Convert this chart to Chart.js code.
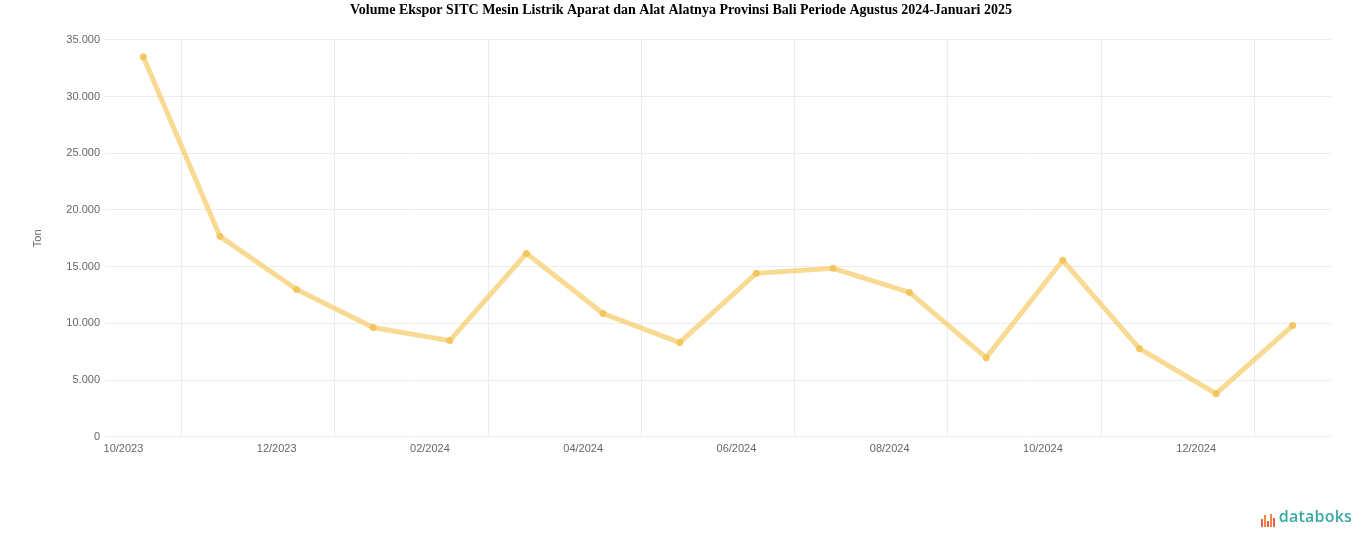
<!DOCTYPE html>
<html>
<head>
<meta charset="utf-8">
<script src="https://cdn.jsdelivr.net/npm/chart.js@4.4.1/dist/chart.umd.min.js"></script>
<style>
  html, body { margin: 0; padding: 0; background: #fff; }
  #wrap { position: relative; width: 1366px; height: 547px; }
  #logo {
    position: absolute; right: 14px; bottom: 20px;
    font-family: "Open Sans", sans-serif; font-size: 16px; font-weight: 600;
    color: #3aa9a5; display: flex; align-items: flex-end; letter-spacing: 0.2px;
  }
  #logo .bars { display: flex; align-items: flex-end; margin-right: 3px; height: 14px; }
  #logo .bars span { display: inline-block; width: 2px; margin-right: 1px; background: #e8604c; }
</style>
</head>
<body>
<div id="wrap">
  <canvas id="chart" width="1366" height="547"></canvas>
  <div id="logo">
    <div class="bars"><span style="height:8px"></span><span style="height:12px;background:#f08a3c"></span><span style="height:6px"></span><span style="height:13px;background:#f08a3c"></span><span style="height:9px"></span></div>databoks
  </div>
</div>
<script>
// Data
const months = ['10/2023', '11/2023', '12/2023', '01/2024', '02/2024', '03/2024', '04/2024', '05/2024',
  '06/2024', '07/2024', '08/2024', '09/2024', '10/2024', '11/2024', '12/2024', '01/2025'];
const volume = [33500, 17680, 12990, 9630, 8480, 16170, 10870, 8310,
  14410, 14850, 12730, 6980, 15560, 7780, 3800, 9810];
const yTicks = [0, 5000, 10000, 15000, 20000, 25000, 30000, 35000];

const titleText = 'Volume Ekspor SITC Mesin Listrik Aparat dan Alat Alatnya Provinsi Bali Periode Agustus 2024-Januari 2025';

const fmt = v => v.toLocaleString('de-DE');

const lineColor = 'rgba(246, 206, 110, 0.75)';

new Chart(document.getElementById('chart'), {
  type: 'line',
  data: {
    labels: months,
    datasets: [{
      label: 'Volume',
      data: volume,
      borderColor: lineColor,
      backgroundColor: 'rgba(242, 196, 90, 0.9)',
      borderWidth: 5,
      pointRadius: 3.5,
      pointBorderWidth: 0,
      tension: 0,
      fill: false
    }]
  },
  options: {
    responsive: false,
    animation: false,
    layout: { padding: { left: 31, right: 35, top: 0, bottom: 85 } },
    plugins: {
      legend: { display: false },
      tooltip: { enabled: false },
      title: {
        display: true,
        text: titleText,
        color: '#000',
        font: { family: '"Liberation Serif", "Times New Roman", serif', size: 14, weight: 'bold' },
        padding: { top: 2, bottom: 21 }
      }
    },
    scales: {
      x: {
        offset: true,
        border: { display: false },
        grid: {
          offset: true,
          drawTicks: false,
          lineWidth: 1,
          color: ctx => (ctx.index % 2 === 1 ? '#ececec' : 'rgba(0,0,0,0)')
        },
        ticks: {
          autoSkip: false,
          maxRotation: 0,
          align: 'end',
          padding: 6,
          color: '#666',
          font: { family: 'Arial, "Liberation Sans", sans-serif', size: 11 },
          callback: (v, i) => (i % 2 === 0 ? months[i] : '')
        }
      },
      y: {
        min: 0,
        max: 35000,
        border: { display: false },
        afterFit: s => { s.width = 74; },
        afterBuildTicks: s => { s.ticks = yTicks.map(v => ({ value: v })); },
        grid: { drawTicks: false, color: '#ececec' },
        ticks: {
          padding: 5,
          color: '#666',
          font: { family: 'Arial, "Liberation Sans", sans-serif', size: 11 },
          callback: v => fmt(v)
        },
        title: {
          display: true,
          text: 'Ton',
          color: '#666',
          font: { family: 'Arial, "Liberation Sans", sans-serif', size: 11 },
          padding: 0
        }
      }
    }
  }
});
</script>
</body>
</html>
